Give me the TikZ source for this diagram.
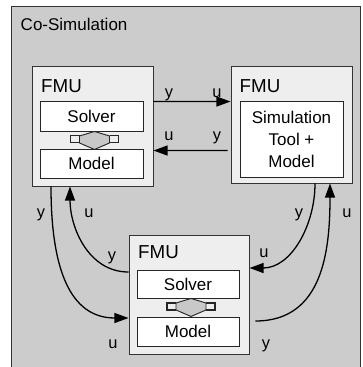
\documentclass[tikz,border=0pt]{standalone}
\usepackage{fontspec}
\setmainfont{Liberation Sans}
\usetikzlibrary{arrows.meta}
\definecolor{outergray}{HTML}{CCCCCC}
\definecolor{fmugray}{HTML}{EEEEEE}
\definecolor{swapgray}{HTML}{C8C8C8}

\begin{document}
\begin{tikzpicture}[x=0.03cm,y=-0.03cm,
    fmu/.style={draw=black!80, fill=fmugray, line width=0.8pt, inner sep=0pt},
    part/.style={draw=black!85, fill=white, line width=0.8pt, inner sep=0pt, align=center, font=\fontsize{14.5}{18.8}\selectfont},
    lbl/.style={anchor=base, inner sep=0pt, font=\fontsize{14}{16}\selectfont},
    head/.style={anchor=base west, inner sep=0pt, font=\fontsize{16}{18}\selectfont},
    flow/.style={line width=1.1pt, -{Triangle[length=12pt,width=8.5pt]}},
    swap/.style={draw=black!85, fill=swapgray, line width=0.8pt}]
    \useasboundingbox (0,0) rectangle (362,367);
    \clip (0,0) rectangle (362,367);

    % Outer frame
    \draw[fill=outergray, line width=0.8pt, draw=black!80] (11,6) rectangle (360,390);
    \node[lbl, anchor=base west, font=\fontsize{14.5}{16}\selectfont] (title) at (20.5,31) {Co-Simulation};

    % Left FMU: solver + model
    \node[fmu, minimum width=3.63cm, minimum height=3.6cm] (fmuA) at (92.5,126) {};
    \node[head] (headA) at (41,92) {FMU};
    \node[part, minimum width=3.09cm, minimum height=0.9cm] (solverA) at (91.5,116) {Solver};
    \node[part, minimum width=3.09cm, minimum height=0.87cm] (modelA) at (91.5,163.5) {Model};

    % Right FMU: tool export
    \node[fmu, minimum width=3.63cm, minimum height=3.51cm] (fmuB) at (291.5,124.5) {};
    \node[head] (headB) at (239.5,92) {FMU};
    \node[part, minimum width=3.09cm, minimum height=2.28cm] (toolB) at (291.5,139) {Simulation\\Tool +\\Model};

    % Bottom FMU: solver + model
    \node[fmu, minimum width=3.6cm, minimum height=3.57cm] (fmuC) at (189,294.5) {};
    \node[head] (headC) at (138,258) {FMU};
    \node[part, minimum width=3.06cm, minimum height=0.84cm] (solverC) at (188,284) {Solver};
    \node[part, minimum width=3.06cm, minimum height=0.87cm] (modelC) at (188,331.5) {Model};

    % Solver <-> model exchange
    \foreach \s in {solverA,solverC} {
        \draw[swap] ([xshift=0.09cm]\s.south) -- ++(-15,4.5) -- ++(0,7) -- ++(15,6.5)
            -- ++(15,-6.5) -- ++(0,-7) -- cycle;
        \draw[line width=0.9pt, draw=black!85] ([xshift=0.09cm]\s.south) ++(-15,4.5) -- ++(-9,0) -- ++(0,7) -- ++(9,0);
        \draw[line width=0.9pt, draw=black!85] ([xshift=0.09cm]\s.south) ++(15,4.5) -- ++(9,0) -- ++(0,7) -- ++(-9,0);
    }

    % Top pair
    \draw[flow] ([yshift=-1.08cm]fmuA.north east) -- ([yshift=-1.08cm]fmuB.north west);
    \draw[flow] ([yshift=-2.55cm,xshift=-0.09cm]fmuB.north west) -- ([yshift=-2.55cm]fmuA.north east);
    \node[lbl] (yAB) at (169,97) {y};
    \node[lbl] (uAB) at (217,97) {u};
    \node[lbl] (uBA) at (169,140) {u};
    \node[lbl] (yBA) at (217,140) {y};

    % Left pair
    \draw[flow] ([xshift=-1.245cm]fmuA.south) to[out=-90,in=180,looseness=1.1] ([yshift=-0.705cm]fmuC.west);
    \draw[flow] ([yshift=0.675cm]fmuC.west) to[out=180,in=-90] ([xshift=-0.675cm]fmuA.south);
    \node[lbl] (yAC) at (41,217) {y};
    \node[lbl] (uCA) at (89,217) {u};
    \node[lbl] (yCA) at (112,260) {y};
    \node[lbl] (uAC) at (113,348) {u};

    % Right pair
    \draw[flow] ([xshift=0.705cm]fmuB.south) to[out=-90,in=0] ([yshift=0.795cm]fmuC.east);
    \draw[flow] ([yshift=-0.795cm,xshift=0.18cm]fmuC.east) to[out=0,in=-90,looseness=1.1] ([xshift=1.155cm]fmuB.south);
    \node[lbl] (yBC) at (299,217) {y};
    \node[lbl] (uCB) at (347,217) {u};
    \node[lbl] (uBC) at (264,257) {u};
    \node[lbl] (yCB) at (266,348) {y};
\end{tikzpicture}
\end{document}
